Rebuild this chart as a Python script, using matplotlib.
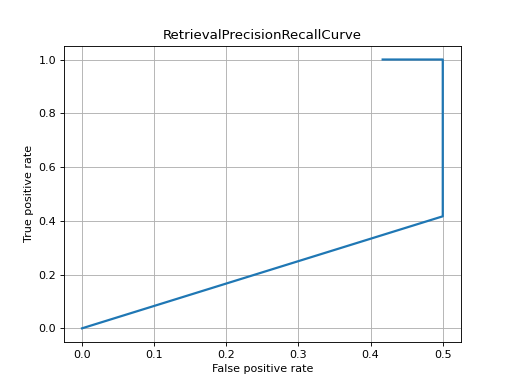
import matplotlib
matplotlib.use("Agg")
import matplotlib.pyplot as plt

fpr = [0.0, 0.5, 0.5, 0.4167]
tpr = [0.0, 0.4167, 1.0, 1.0]

fig, ax = plt.subplots(figsize=(6.4, 4.8), dpi=80)
ax.plot(fpr, tpr, linewidth=2)
ax.set_xlabel("False positive rate")
ax.set_ylabel("True positive rate")
ax.set_title("RetrievalPrecisionRecallCurve")
ax.grid(True)
fig.savefig("out.png", dpi=80)
